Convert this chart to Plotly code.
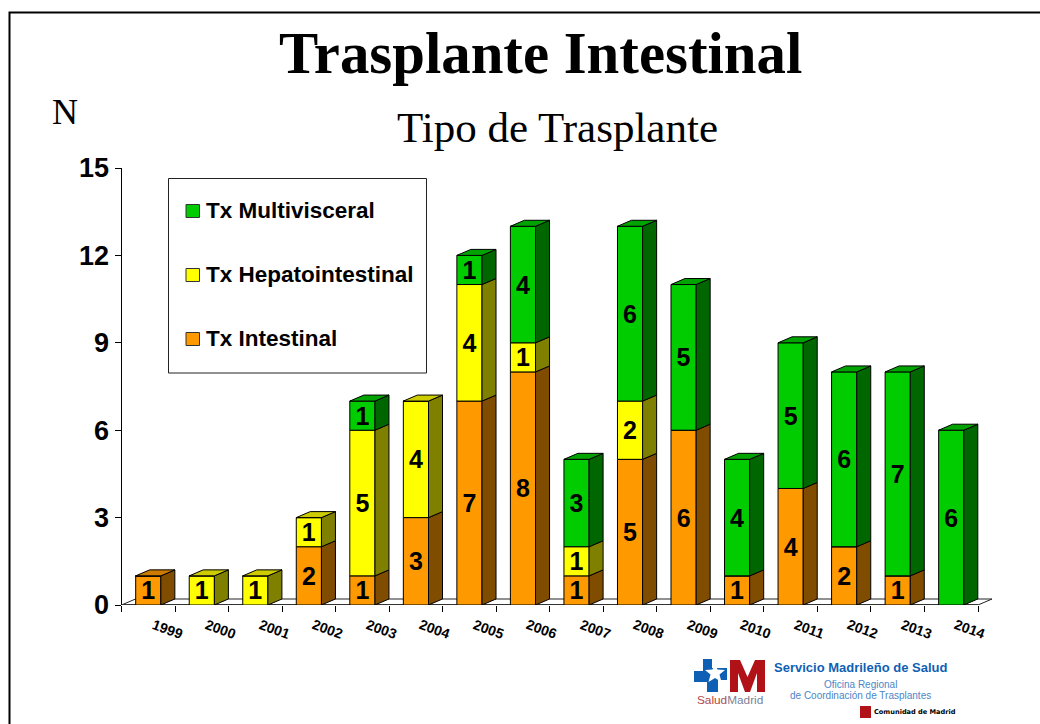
import plotly.graph_objects as go

# ---------- data ----------
years = ["1999","2000","2001","2002","2003","2004","2005","2006","2007","2008","2009","2010","2011","2012","2013","2014"]
intestinal = [1,0,0,2,1,3,7,8,1,5,6,1,4,2,1,0]
hepato     = [0,1,1,1,5,4,4,1,1,2,0,0,0,0,0,0]
multi      = [0,0,0,0,1,0,1,4,3,6,5,4,5,6,7,6]
series_names = ["Tx Intestinal","Tx Hepatointestinal","Tx Multivisceral"]
y_ticks = [0,3,6,9,12,15]
title_text = "Trasplante Intestinal"
subtitle_text = "Tipo de Trasplante"

# ---------- geometry ----------
W, H = 1040, 724
X0, X16, Y0, Y15 = 121.5, 978.0, 605.0, 168.0
CAT = (X16 - X0) / 16
UNIT = (Y0 - Y15) / 15
DX = 14 / CAT
DY = 6 / UNIT
XMAX = 16.6
BW = 0.47

def px(x): return x / W
def py(y): return 1 - y / H

FACE = ["#FF9900", "#FFFF00", "#00CC00"]
SIDE = ["#804D00", "#808000", "#006600"]
TOP  = ["#CC7A00", "#CCCC00", "#00A300"]
SANS = "Liberation Sans"
SERIF = "Liberation Serif"

series = [intestinal, hepato, multi]
centers = [i + 0.5 for i in range(len(years))]
fig = go.Figure()

base = [0] * len(years)
sides = [[[], []] for _ in series]
tops = [[[], []] for _ in series]
for s, vals in enumerate(series):
    fig.add_bar(x=centers, y=vals, base=base, width=BW, name=series_names[s],
                marker=dict(color=FACE[s], line=dict(color="black", width=1)),
                text=[str(v) if v else "" for v in vals],
                textposition="inside", insidetextanchor="middle", textangle=0,
                constraintext="none",
                textfont=dict(family=SANS, size=25, color="black", weight="bold"),
                hoverinfo="skip", showlegend=False)
    new_base = [b + v for b, v in zip(base, vals)]
    for i, v in enumerate(vals):
        if not v:
            continue
        c, b, t = centers[i], base[i], new_base[i]
        xl, xr = c - BW / 2, c + BW / 2
        sides[s][0] += [xr, xr + DX, xr + DX, xr, xr, None]
        sides[s][1] += [b, b + DY, t + DY, t, b, None]
        is_top = all(series[k][i] == 0 for k in range(s + 1, len(series)))
        if is_top:
            tops[s][0] += [xl, xl + DX, xr + DX, xr, xl, None]
            tops[s][1] += [t, t + DY, t + DY, t, t, None]
    base = new_base

for s in range(len(series)):
    for poly_, col in ((sides[s], SIDE[s]), (tops[s], TOP[s])):
        fig.add_scatter(x=poly_[0], y=poly_[1], mode="lines", fill="toself", fillcolor=col,
                        line=dict(color="black", width=1), hoverinfo="skip", showlegend=False)

shapes = []
# floor + x axis line
n = len(years)
shapes.append(dict(type="path", layer="below", xref="x", yref="y",
                   path=f"M0,0 L{DX},{DY} L{n+DX},{DY} L{n},0 Z",
                   fillcolor="white", line=dict(color="#222222", width=1)))
shapes.append(dict(type="line", layer="below", xref="x", yref="y", x0=0, x1=n, y0=0, y1=0,
                   line=dict(color="#333333", width=2)))
# page frame
shapes.append(dict(type="path", xref="paper", yref="paper",
                   path=f"M{px(9.5)},{py(724)} L{px(9.5)},{py(12.5)} L{px(1040)},{py(12.5)}",
                   line=dict(color="black", width=2)))
# legend box
shapes.append(dict(type="rect", xref="paper", yref="paper", x0=px(168.5), x1=px(426.5),
                   y0=py(373), y1=py(178.5), fillcolor="white", line=dict(color="#222222", width=1)))

def ann(text, x, y, size, color="black", family=SANS, bold=False, anchor="center", angle=0):
    return dict(text=text, x=px(x), y=py(y), xref="paper", yref="paper", xanchor=anchor,
                yanchor="middle", showarrow=False, textangle=angle,
                font=dict(family=family, size=size, color=color, weight="bold" if bold else "normal"))

annotations = [
    ann(title_text, 540, 54, 58.8, family=SERIF, bold=True),
    ann(subtitle_text, 557, 127, 43, family=SERIF),
    ann("N", 65, 112, 36, family=SERIF),
]
# legend entries
for s, yy in zip((2, 1, 0), (211, 275, 339)):
    shapes.append(dict(type="rect", xref="paper", yref="paper", x0=px(186), x1=px(199.5),
                       y0=py(yy + 6.5), y1=py(yy - 6.5), fillcolor=FACE[s],
                       line=dict(color="#333333", width=1)))
    annotations.append(ann(series_names[s], 203.5, yy, 22.5, bold=True, anchor="left"))
# rotated year labels
for i, yr in enumerate(years):
    annotations.append(dict(text=yr, x=i + 0.85, y=py(629), xref="x", yref="paper",
                            xanchor="center", yanchor="middle", showarrow=False, textangle=20,
                            font=dict(family=SANS, size=14, color="black", weight="bold")))

# logo (decoration)
BLUE, RED = "#0F5FB4", "#B01217"
def poly(pts, fill):
    p = "M" + " L".join(f"{px(a)},{py(b)}" for a, b in pts) + " Z"
    return dict(type="path", xref="paper", yref="paper", path=p, fillcolor=fill, line=dict(width=0))
shapes.append(poly([(703,659),(712,659),(712,668),(727,668),(727,680),(718,680),(718,692),
                    (707,692),(707,682),(694,682),(694,671),(703,671)], BLUE))
shapes.append(poly([(715,663),(717.5,669.5),(725,670),(719.5,674.5),(721.5,682),(715,678),(708.5,682),
                    (710.5,674.5),(705,670),(712.5,669.5)], "white"))
shapes.append(poly([(730,660),(740,660),(747.5,677),(755,660),(765,660),(765,692),(757,692),
                    (757,673),(750,692),(745,692),(738,673),(738,692),(730,692)], RED))
shapes.append(poly([(860,706),(871,706),(871,718),(860,718)], RED))
annotations += [
    ann('<span style="color:#B0474A">Salud</span><span style="color:#7A7F96">Madrid</span>',
        729.5, 699.5, 11.8),
    ann("Servicio Madrileño de Salud", 860, 667, 13, color=BLUE, bold=True),
    ann("Oficina Regional", 860, 684, 10, color="#4C86C6"),
    ann("de Coordinación de Trasplantes", 860, 695, 10, color="#4C86C6"),
    ann("Comunidad de Madrid", 872, 712, 6.6, family="DejaVu Sans", bold=True, anchor="left"),
]

fig.update_layout(
    width=W, height=H, autosize=False, margin=dict(l=0, r=0, t=0, b=0),
    paper_bgcolor="white", plot_bgcolor="white", barmode="overlay",
    shapes=shapes, annotations=annotations,
    xaxis=dict(domain=[px(X0), px(X0 + XMAX * CAT)], range=[0, XMAX], showgrid=False, zeroline=False,
               automargin=False, showline=False, tickmode="array", tickvals=list(range(n + 1)),
               ticktext=[""] * (n + 1), ticks="outside", ticklen=6, tickwidth=1, tickcolor="black"),
    yaxis=dict(domain=[py(Y0), py(Y15)], range=[0, 15], showgrid=False, zeroline=False,
               automargin=False, showline=True, linecolor="black", linewidth=1, tickmode="array", tickvals=y_ticks,
               ticks="outside", ticklen=6, tickwidth=1, tickcolor="black",
               tickfont=dict(family=SANS, size=27, color="black", weight="bold")),
)
fig.write_html("out.html", config={"displayModeBar": False},
               post_script="document.body.style.margin='0';document.documentElement.style.overflow='hidden';")
